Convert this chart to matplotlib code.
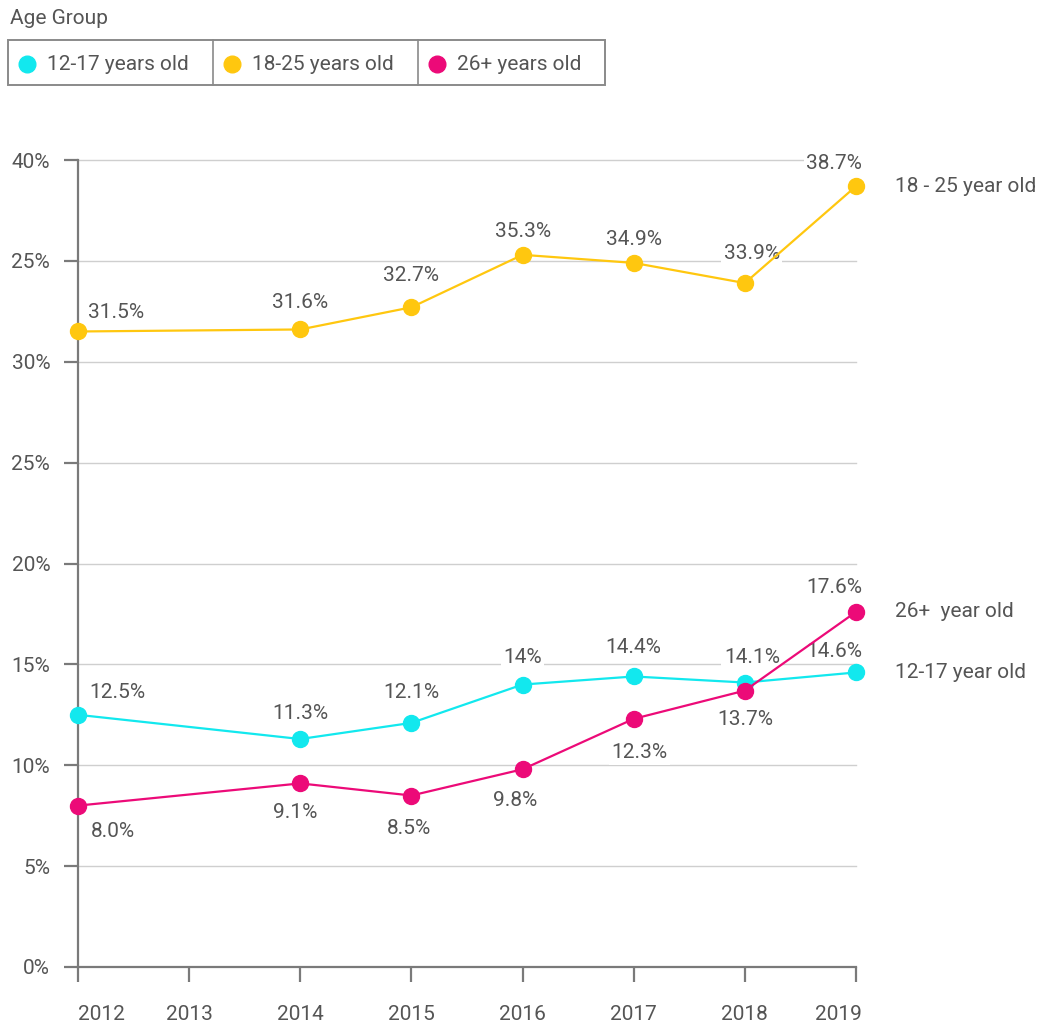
import matplotlib
matplotlib.use("Agg")
import matplotlib.pyplot as plt
import matplotlib.transforms as mtransforms
from matplotlib.patches import Rectangle
from matplotlib.lines import Line2D

plt.rcParams['font.family'] = ['Roboto', 'DejaVu Sans']

# ---- data ----
years = ['2012', '2013', '2014', '2015', '2016', '2017', '2018', '2019']
data_years = ['2012', '2014', '2015', '2016', '2017', '2018', '2019']
teen = [12.5, 11.3, 12.1, 14.0, 14.4, 14.1, 14.6]
young = [31.5, 31.6, 32.7, 35.3, 34.9, 33.9, 38.7]
adult = [8.0, 9.1, 8.5, 9.8, 12.3, 13.7, 17.6]
teen_labels = ['12.5%', '11.3%', '12.1%', '14%', '14.4%', '14.1%', '14.6%']
young_labels = ['31.5%', '31.6%', '32.7%', '35.3%', '34.9%', '33.9%', '38.7%']
adult_labels = ['8.0%', '9.1%', '8.5%', '9.8%', '12.3%', '13.7%', '17.6%']
y_ticks = [0, 5, 10, 15, 20, 25, 30, 35, 40]
y_tick_labels = ['0%', '5%', '10%', '15%', '20%', '25%', '30%', '25%', '40%']
legend_names = ['12-17 years old', '18-25 years old', '26+ years old']
end_names = ['12-17 year old', '18 - 25 year old', '26+  year old']
legend_title = 'Age Group'

colors = ['#12E8EE', '#FFC70F', '#EC0A78']
txt = '#555555'
gray = '#7a7a7a'
FS = 15

# label offsets in pixels (dx, dy) -- styling only
teen_off = [(39, 22), (0, 26), (0, 30), (0, 27), (0, 29), (7, 25), (-22, 21)]
young_off = [(38, 19), (0, 27), (0, 32), (0, 23), (0, 23), (7, 30), (-22, 23)]
adult_off = [(35, -26), (-5, -29), (-2, -33), (-7, -31), (6, -34), (0, -29), (-22, 24)]

fig = plt.figure(figsize=(10.4, 10.24), dpi=100)
W, H = 1040, 1024
left, right, bottom, top = 78, 856, 967, 160
ax = fig.add_axes([left / W, 1 - bottom / H, (right - left) / W, (bottom - top) / H])

xpos = {y: i for i, y in enumerate(years)}
xs = [xpos[y] for y in data_years]

ax.set_xlim(0, len(years) - 1)
ax.set_ylim(0, 40)

for yv in y_ticks[1:]:
    ax.plot([0, len(years) - 1], [yv, yv], color='#cfcfcf', lw=1.0, zorder=1, clip_on=False)

series = [(teen, teen_labels, teen_off), (young, young_labels, young_off), (adult, adult_labels, adult_off)]
for (vals, labs, offs), c in zip(series, colors):
    ax.plot(xs, vals, color=c, lw=1.6, marker='o', ms=11.5, mec=c, mfc=c, zorder=4, clip_on=False)
    for x, v, lab, (dx, dy) in zip(xs, vals, labs, offs):
        ax.annotate(lab, (x, v), xytext=(dx, dy), textcoords='offset pixels',
                    ha='center', va='center', fontsize=FS, color=txt, zorder=3,
                    bbox=dict(boxstyle='square,pad=0.12', fc='white', ec='none'))

# end labels
for vals, name in zip([teen, young, adult], end_names):
    ax.annotate(name, (xs[-1], vals[-1]), xytext=(39, 0), textcoords='offset pixels',
                ha='left', va='center', fontsize=FS, color=txt, annotation_clip=False)

ax.set_yticks(y_ticks)
ax.set_yticklabels(y_tick_labels)
ax.set_xticks(range(len(years)))
ax.set_xticklabels(years)
for s in ['top', 'right']:
    ax.spines[s].set_visible(False)
for s in ['left', 'bottom']:
    ax.spines[s].set_color(gray)
    ax.spines[s].set_linewidth(1.6)
ax.tick_params(axis='y', length=10, width=1.6, color=gray, pad=10, labelsize=FS, labelcolor=txt)
ax.tick_params(axis='x', length=11, width=1.6, color=gray, pad=16, labelsize=FS, labelcolor=txt)

xl = ax.get_xticklabels()
xl[0].set_horizontalalignment('left')
xl[-1].set_horizontalalignment('right')
xl[-1].set_transform(xl[-1].get_transform() + mtransforms.ScaledTranslation(6 / 100, 0, fig.dpi_scale_trans))

# legend (manual)
fig.text(10 / W, 1 - 18 / H, legend_title, fontsize=FS, color=txt, ha='left', va='center')
bx0, bx1, by0, by1 = 8, 605, 40, 85
fig.add_artist(Rectangle((bx0 / W, 1 - by1 / H), (bx1 - bx0) / W, (by1 - by0) / H,
                         transform=fig.transFigure, fc='white', ec='#8a8a8a', lw=1.4))
cells = [8, 213, 418, 605]
for xd in cells[1:-1]:
    fig.add_artist(Line2D([xd / W, xd / W], [1 - by1 / H, 1 - by0 / H], transform=fig.transFigure,
                          color='#8a8a8a', lw=1.2))
for i, (name, c) in enumerate(zip(legend_names, colors)):
    mx = cells[i] + 19
    fig.add_artist(Line2D([mx / W], [1 - 64 / H], transform=fig.transFigure, marker='o',
                          ms=12, color=c, mec=c, lw=0))
    fig.text((cells[i] + 39) / W, 1 - 65 / H, name, fontsize=FS, color=txt, ha='left', va='center')

fig.savefig('out.png', dpi=100, facecolor='white')
